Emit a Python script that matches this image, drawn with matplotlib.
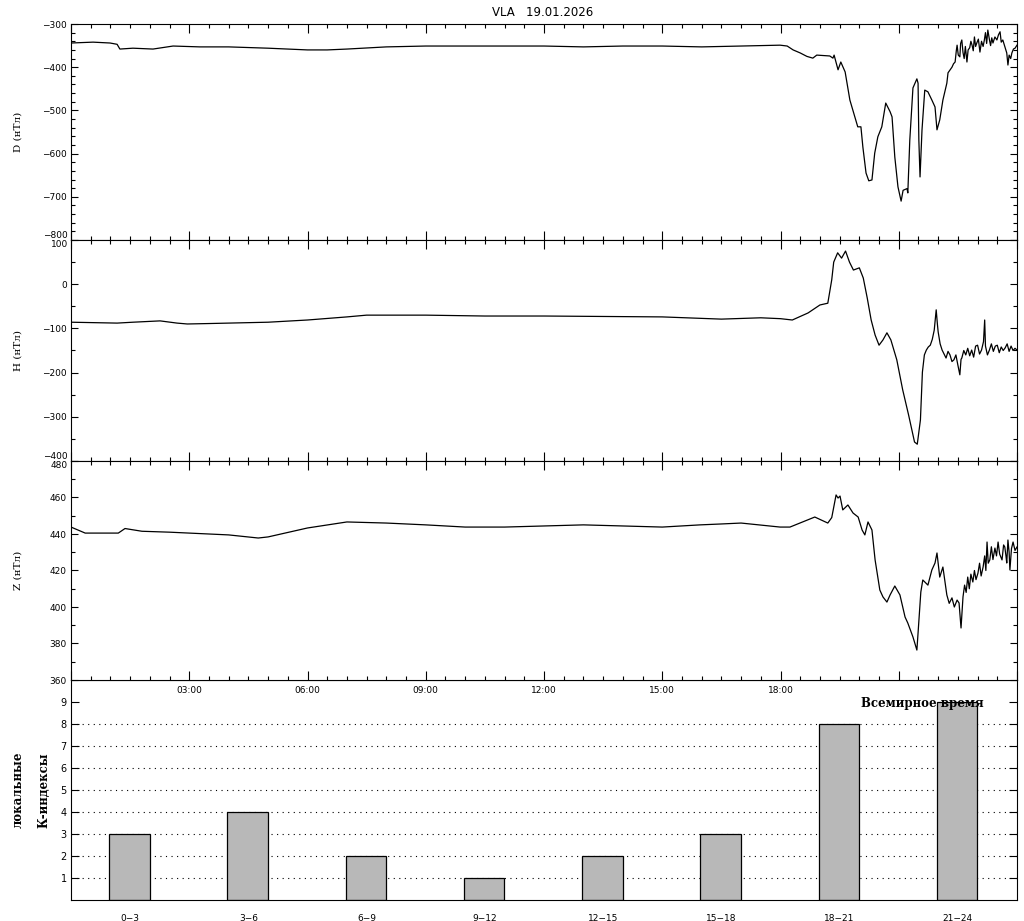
import numpy as np
import matplotlib
matplotlib.use("Agg")
import matplotlib.pyplot as plt
from matplotlib.ticker import MultipleLocator, FuncFormatter

plt.rcParams.update({
    "font.family": "DejaVu Sans",
    "font.size": 6.5,
    "axes.linewidth": 0.8,
    "axes.unicode_minus": True,
})

# ---- data (time in hours UT) ----
D_t = [0.0, 0.56, 0.99, 1.17, 1.24, 1.57, 2.08, 2.59, 3.27, 4.0,
       5.0, 6.0, 6.5, 7.0, 8.0, 9.0, 10.0, 11.0, 12.0, 13.0,
       14.0, 15.0, 16.0, 17.0, 17.99, 18.17, 18.32, 18.5, 18.67, 18.82,
       18.92, 19.25, 19.33, 19.36, 19.46, 19.53, 19.64, 19.76, 19.96, 20.04,
       20.09, 20.17, 20.24, 20.32, 20.39, 20.47, 20.57, 20.67, 20.78, 20.83,
       20.90, 20.98, 21.06, 21.11, 21.21, 21.23, 21.28, 21.36, 21.46, 21.49,
       21.51, 21.54, 21.59, 21.66, 21.74, 21.84, 21.92, 21.97, 22.04, 22.12,
       22.22, 22.25, 22.35, 22.39, 22.43, 22.46, 22.48, 22.51, 22.55, 22.57,
       22.60, 22.63, 22.66, 22.69, 22.73, 22.76, 22.80, 22.83, 22.86, 22.89,
       22.92, 22.95, 22.98, 23.02, 23.06, 23.10, 23.14, 23.17, 23.20, 23.23,
       23.26, 23.30, 23.33, 23.36, 23.39, 23.44, 23.49, 23.53, 23.57, 23.60,
       23.64, 23.69, 23.74, 23.77, 23.80, 23.84, 23.87, 23.91, 23.95, 24.0]
D_v = [-344, -342, -344, -347, -358, -356, -358, -351, -353, -353,
       -356, -360, -360, -358, -353, -351, -351, -351, -351, -353,
       -351, -351, -353, -351, -349, -351, -360, -367, -375, -379,
       -372, -374, -379, -372, -406, -388, -411, -476, -538, -538,
       -585, -645, -663, -661, -599, -561, -538, -483, -503, -515,
       -608, -677, -710, -685, -681, -691, -569, -448, -427, -437,
       -569, -654, -545, -453, -457, -476, -492, -545, -522, -476,
       -437, -413, -400, -392, -388, -362, -349, -372, -376, -345,
       -337, -366, -380, -352, -388, -360, -355, -340, -349, -362,
       -330, -352, -344, -335, -365, -340, -352, -338, -320, -345,
       -314, -336, -350, -332, -344, -330, -337, -325, -318, -342,
       -337, -352, -367, -395, -372, -380, -367, -358, -356, -349]

H_t = [0.0, 1.17, 1.57, 2.26, 2.69, 2.95, 3.5, 5.0, 6.0, 7.0,
       7.5, 8.5, 9.0, 10.5, 12.0, 13.5, 15.0, 16.5, 17.5, 18.0,
       18.3, 18.7, 19.0, 19.2, 19.3, 19.35, 19.45, 19.55, 19.65, 19.75,
       19.85, 20.0, 20.1, 20.2, 20.3, 20.4, 20.5, 20.6, 20.7, 20.8,
       20.95, 21.1, 21.25, 21.4, 21.47, 21.55, 21.6, 21.65, 21.7, 21.75,
       21.8, 21.85, 21.9, 21.95, 21.98, 22.0, 22.05, 22.1, 22.15, 22.2,
       22.25, 22.3, 22.35, 22.4, 22.45, 22.5, 22.55, 22.58, 22.6, 22.65,
       22.7, 22.75, 22.8, 22.85, 22.9, 22.95, 23.0, 23.05, 23.1, 23.15,
       23.18, 23.2, 23.25, 23.3, 23.35, 23.4, 23.45, 23.5, 23.55, 23.6,
       23.65, 23.7, 23.75, 23.8, 23.85, 23.9, 23.95, 24.0]
H_v = [-86, -88, -86, -83, -88, -90, -89, -86, -81, -74,
       -70, -70, -70, -72, -72, -73, -74, -79, -76, -78,
       -81, -65, -47, -43, 10, 50, 71, 59, 75, 50,
       32, 37, 14, -31, -81, -115, -138, -126, -110, -126,
       -171, -239, -296, -357, -362, -307, -199, -160, -149, -142,
       -138, -125, -104, -58, -90, -108, -135, -149, -158, -167,
       -152, -160, -175, -171, -160, -183, -205, -170, -167, -150,
       -160, -145, -162, -149, -165, -140, -138, -158, -149, -130,
       -81, -140, -160, -149, -135, -152, -140, -138, -155, -142,
       -150, -144, -135, -152, -140, -150, -145, -149]

Z_t = [0.0, 0.36, 0.8, 1.2, 1.37, 1.8, 2.5, 3.0, 4.0, 4.75,
       5.0, 6.0, 7.0, 8.0, 9.0, 10.0, 11.0, 12.0, 13.0, 14.0,
       15.0, 15.96, 16.5, 17.0, 17.99, 18.24, 18.87, 19.20, 19.30, 19.41,
       19.46, 19.51, 19.58, 19.71, 19.84, 19.97, 20.07, 20.14, 20.22, 20.32,
       20.40, 20.52, 20.60, 20.70, 20.78, 20.90, 21.03, 21.16, 21.23, 21.36,
       21.46, 21.49, 21.56, 21.61, 21.74, 21.84, 21.92, 21.97, 22.04, 22.12,
       22.22, 22.28, 22.35, 22.41, 22.48, 22.53, 22.58, 22.63, 22.67, 22.71,
       22.75, 22.79, 22.83, 22.88, 22.92, 22.96, 23.01, 23.05, 23.09, 23.14,
       23.18, 23.21, 23.24, 23.27, 23.31, 23.35, 23.39, 23.44, 23.48, 23.52,
       23.56, 23.62, 23.66, 23.69, 23.72, 23.74, 23.77, 23.80, 23.82, 23.86,
       23.90, 23.95, 24.0]
Z_v = [443.8, 440.5, 440.5, 440.5, 443.0, 441.5, 441.0, 440.5, 439.5, 437.8,
       438.4, 443.3, 446.6, 446.0, 445.0, 443.8, 443.8, 444.4, 445.0, 444.4,
       443.8, 445.0, 445.5, 446.0, 443.8, 443.8, 449.3, 446.0, 449.0, 461.4,
       459.7, 460.8, 453.2, 455.9, 451.5, 449.3, 442.2, 439.5, 446.6, 442.2,
       425.8, 409.3, 405.5, 402.7, 406.6, 411.5, 406.6, 394.5, 391.2, 383.6,
       376.4, 385.8, 408.2, 414.8, 412.0, 420.3, 424.1, 429.6, 416.4, 421.9,
       406.6, 402.0, 405.0, 400.0, 403.8, 402.2, 388.5, 405.5, 412.0, 408.0,
       416.4, 410.0, 418.0, 413.7, 420.0, 415.0, 418.6, 424.0, 417.0, 421.9,
       428.0, 420.0, 435.6, 424.0, 425.8, 433.0, 426.0, 432.3, 428.0, 435.6,
       429.0, 425.8, 434.0, 432.9, 428.0, 424.1, 436.7, 430.0, 420.3, 432.0,
       435.6, 431.0, 432.9]

K_labels = ["0\u22123", "3\u22126", "6\u22129", "9\u221212",
            "12\u221215", "15\u221218", "18\u221221", "21\u221224"]
K_values = [3, 4, 2, 1, 2, 3, 8, 9]

# ---- layout (pixel boxes of the reference, 1024x921) ----
FW, FH = 1024, 921
fig = plt.figure(figsize=(FW / 100, FH / 100), dpi=100)


def box(top, bot, left=71, right=1017):
    return [left / FW, 1 - bot / FH, (right - left) / FW, (bot - top) / FH]


ax1 = fig.add_axes(box(24, 240))
ax2 = fig.add_axes(box(240, 461))
ax3 = fig.add_axes(box(461, 680))
ax4 = fig.add_axes(box(680, 900))
ax3.set_zorder(3)

serif = "DejaVu Serif"
panels = [
    (ax1, D_t, D_v, (-800, -300), 100, 20, "D (\u043d\u0422\u043b)"),
    (ax2, H_t, H_v, (-400, 100), 100, 50, "H (\u043d\u0422\u043b)"),
    (ax3, Z_t, Z_v, (360, 480), 20, 10, "Z (\u043d\u0422\u043b)"),
]


def edge_fmt(lo, hi, keep_lo, keep_hi):
    # the labels at the shared panel edges are written separately below
    def f(v, p):
        if (v == lo and not keep_lo) or (v == hi and not keep_hi):
            return ""
        return "%d" % v if v >= 0 else "\u2212%d" % -v
    return FuncFormatter(f)


fmts = [edge_fmt(-800, -300, False, True),
        edge_fmt(-400, 100, False, False),
        edge_fmt(360, 480, True, False)]

for (ax, t, v, ylim, ymaj, ymin, lab), fmt in zip(panels, fmts):
    ax.plot(t, v, color="black", lw=0.9)
    ax.set_xlim(0, 24)
    ax.set_ylim(*ylim)
    ax.xaxis.set_major_locator(MultipleLocator(3))
    ax.xaxis.set_minor_locator(MultipleLocator(0.5))
    ax.yaxis.set_major_locator(MultipleLocator(ymaj))
    ax.yaxis.set_minor_locator(MultipleLocator(ymin))
    ax.yaxis.set_major_formatter(fmt)
    ax.tick_params(which="both", direction="in", top=True, right=True,
                   width=0.8, labelsize=6.5, pad=3)
    ax.tick_params(axis="x", which="major", length=6.5)
    ax.tick_params(axis="x", which="minor", length=3)
    ax.tick_params(axis="y", which="major", length=5)
    ax.tick_params(axis="y", which="minor", length=3)
    ax.tick_params(axis="x", labelbottom=False)
    ax.text(-53 / 946, 0.5, lab, transform=ax.transAxes, rotation=90,
            ha="center", va="center", fontsize=7.5, family=serif)

# edge labels where two panels meet: one just above, one just below the seam
for ax, val, va in [(ax1, -800, "bottom"), (ax2, 100, "top"),
                    (ax2, -400, "bottom"), (ax3, 480, "top")]:
    txt = "%d" % val if val >= 0 else "\u2212%d" % -val
    ax.annotate(txt, xy=(0, val), xycoords=("axes fraction", "data"),
                xytext=(-2.2, 0), textcoords="offset points",
                ha="right", va=va, fontsize=6.5)

# time labels only under the third panel, drawn over the K panel
ax3.tick_params(axis="x", labelbottom=True, pad=4)
ax3.xaxis.set_major_formatter(FuncFormatter(
    lambda x, p: "%02d:00" % int(round(x)) if 0 < x < 19 else ""))

# ---- K-index panel ----
xk = np.arange(len(K_values)) * 3 + 1.48
ax4.set_xlim(0, 24)
ax4.set_ylim(0, 10)
for lev in range(1, 9):
    ax4.axhline(lev, color="black", lw=0.8, ls=(0, (1, 4)), zorder=1)
ax4.bar(xk, K_values, width=1.03, color="#b8b8b8", edgecolor="black",
        linewidth=0.9, zorder=2)
ax4.set_yticks(range(1, 10))
ax4.tick_params(axis="y", direction="in", right=True, length=5.5,
                width=0.8, labelsize=7, pad=3)
ax4.set_xticks(xk + 0.02, K_labels)
ax4.tick_params(axis="x", length=0, labelsize=6.5, pad=10)
ax4.text(21.59, 8.95, "\u0412\u0441\u0435\u043c\u0438\u0440\u043d\u043e\u0435 \u0432\u0440\u0435\u043c\u044f",
         ha="center", va="center", fontsize=8.5, family=serif,
         fontweight="bold", zorder=5)
ax4.text(-53 / 946, 0.5, "\u043b\u043e\u043a\u0430\u043b\u044c\u043d\u044b\u0435",
         transform=ax4.transAxes, rotation=90, ha="center", va="center",
         fontsize=8.5, family=serif, fontweight="bold")
ax4.text(-27 / 946, 0.5, "\u041a-\u0438\u043d\u0434\u0435\u043a\u0441\u044b",
         transform=ax4.transAxes, rotation=90, ha="center", va="center",
         fontsize=8.5, family=serif, fontweight="bold")

fig.text(543 / FW, 1 - 13 / FH, "VLA   19.01.2026", ha="center",
         va="center", fontsize=8.5)

fig.savefig("out.png", dpi=100)
